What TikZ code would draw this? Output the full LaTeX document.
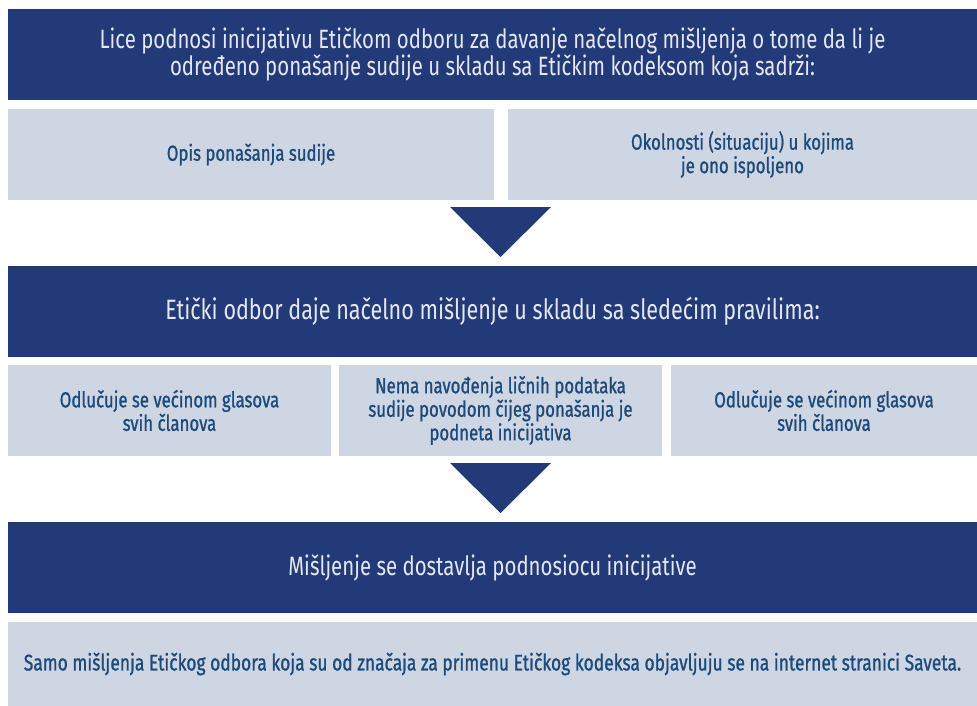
\documentclass[tikz,border=0pt]{standalone}
\usepackage{fontspec}
\setmainfont{Fira Sans}
\newfontfamily\condlight[FakeStretch=0.77]{Fira Sans}
\newfontfamily\condmed[FakeStretch=0.77,FakeBold=1]{Fira Sans}
\definecolor{navy}{RGB}{35,58,120}
\definecolor{pale}{RGB}{207,214,227}
\definecolor{ink}{RGB}{28,74,122}
\definecolor{paletext}{RGB}{228,231,240}
\begin{document}
\begin{tikzpicture}[x=1pt,y=-1pt,
  darkbox/.style={fill=navy,text=paletext,inner sep=0pt,align=center,
    minimum width=969pt,minimum height=91pt,
    font=\condlight\fontsize{26.5}{27.5}\selectfont},
  lightbox/.style={fill=pale,text=ink,inner sep=0pt,align=center,
    minimum height=91pt,
    font=\condmed\fontsize{21.8}{23.5}\selectfont},
  arrowtri/.style={fill=navy}]
\useasboundingbox (0,0) rectangle (977,706);
% row 1
\node[darkbox] (d1) at (492.5,54.5)
  {Lice podnosi inicijativu Etičkom odboru za davanje načelnog mišljenja o tome da li je\\
   određeno ponašanje sudije u skladu sa Etičkim kodeksom koja sadrži:};
\node[lightbox,minimum width=486pt] (l1a) at (251,154.5)
  {Opis ponašanja sudije};
\node[lightbox,minimum width=469pt] (l1b) at (742.5,154.5)
  {Okolnosti (situaciju) u kojima\\je ono ispoljeno};
\fill[arrowtri] (450,207) -- (551,207) -- (500.5,257) -- cycle;
% row 2
\node[darkbox,font=\condlight\fontsize{28}{29}\selectfont] (d2) at (492.5,311.5)
  {Etički odbor daje načelno mišljenje u skladu sa sledećim pravilima:};
\node[lightbox,minimum width=323pt] (l2a) at (169.5,410.5)
  {Odlučuje se većinom glasova\\svih članova};
\node[lightbox,minimum width=323pt] (l2b) at (500.5,410.5)
  {Nema navođenja ličnih podataka\\sudije povodom čijeg ponašanja je\\podneta inicijativa};
\node[lightbox,minimum width=306pt] (l2c) at (824,410.5)
  {Odlučuje se većinom glasova\\svih članova};
\fill[arrowtri] (450,463) -- (551,463) -- (500.5,513) -- cycle;
% row 3
\node[darkbox] (d3) at (492.5,567.5)
  {Mišljenje se dostavlja podnosiocu inicijative};
\node[lightbox,minimum width=969pt,minimum height=84pt,
  font=\condmed\fontsize{22.6}{24}\selectfont] (l3) at (492.5,664)
  {Samo mišljenja Etičkog odbora koja su od značaja za primenu Etičkog kodeksa objavljuju se na internet stranici Saveta.};
\end{tikzpicture}
\end{document}
